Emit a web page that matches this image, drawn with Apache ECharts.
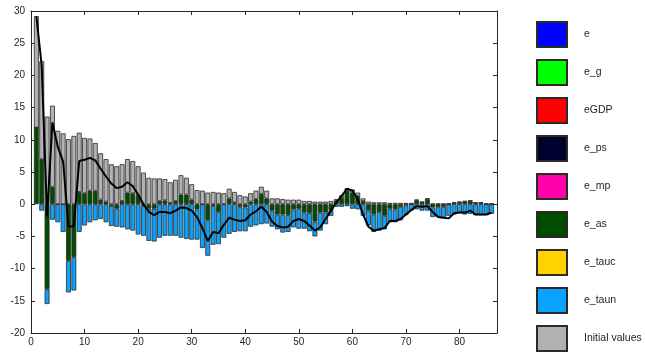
<!DOCTYPE html>
<html>
<head>
<meta charset="utf-8">
<script src="https://cdn.jsdelivr.net/npm/echarts@6/dist/echarts.min.js"></script>
<style>
  html, body { margin: 0; padding: 0; background: #fff; }
  #chart { width: 645px; height: 352px; }
</style>
</head>
<body>
<div id="chart"></div>
<script>
// x axis runs 0..87, bars sit on periods 1..86
const periods = Array.from({ length: 88 }, (_, i) => String(i))

// contributions per period
const initialValues = [
  17.3, 15.2, 13.6, 12.6, 11.4, 11.0, 10.1, 10.6, 9.2, 8.6,
  8.1, 7.4, 7.2, 6.6, 6.2, 5.9, 5.7, 5.2, 5.0, 4.5,
  4.9, 4.1, 4.0, 3.5, 3.3, 3.2, 3.3, 3.0, 2.6, 2.4,
  2.2, 2.1, 1.8, 1.9, 1.8, 1.7, 1.5, 1.6, 1.4, 1.2,
  1.3, 1.3, 1.1, 1.2, 0.9, 0.9, 0.8, 0.7, 0.7, 0.7,
  0.5, 0.5, 0.4, 0.4, 0.4, 0.5, 0.3, 0.4, 0.4, 0.5,
  0.5, 0.4, 0.4, 0.3, 0.3, 0.3, 0.2, 0.2, 0.2, 0.2,
  0.2, 0.1, 0.1, 0.1, 0.1, 0.1, 0.1, 0.1, 0.1, 0.1,
  0.1, 0.1, 0.1, 0.1, 0.1, 0.1
]
const eAs = [
  11.9, 7.0, -13.2, 2.7, 0, 0, -8.8, -8.2, 1.9, 1.7,
  2.1, 2.1, 0.7, 0.4, -0.3, -0.7, 0.5, 1.8, 1.7, 1.4,
  -0.3, -0.7, -0.7, 0.5, 0.6, 0.2, 0.5, 1.5, 1.5, 0.7,
  -0.8, 0, -2.5, -0.3, -1.2, 0, 0.9, 0.3, -0.4, -0.5,
  0.4, 0.8, 1.6, 0.9, -1.0, -1.6, -1.6, -1.7, -0.8, -0.7,
  -1.3, -1.4, -2.7, -1.3, -1.3, -1.0, 0.5, 1.0, 2.1, 1.8,
  1.3, 0.5, -1.0, -1.6, -1.2, -1.8, -0.7, -0.8, -0.4, -0.2,
  0, 0.6, 0.3, 0.8, -0.5, -0.4, -0.4, 0, 0.2, 0.3,
  0.4, 0.5, 0.2, 0.2, 0, 0
]
const eTaun = [
  0, -1.0, -2.3, -2.4, -2.8, -4.3, -4.9, -5.2, -4.3, -3.3,
  -2.8, -2.5, -2.3, -2.8, -3.1, -2.8, -3.6, -3.9, -4.1, -4.7,
  -4.6, -5.0, -5.1, -5.2, -4.9, -4.9, -4.9, -5.2, -5.4, -5.5,
  -4.7, -6.8, -5.5, -6.0, -5.0, -5.2, -4.6, -4.3, -3.8, -3.7,
  -3.5, -3.3, -3.1, -3.0, -2.5, -2.3, -2.8, -2.6, -2.8, -3.1,
  -2.5, -2.8, -2.3, -2.8, -1.8, -0.8, -0.4, -0.4, -0.3, -0.7,
  -0.8, -1.8, -2.3, -2.7, -2.9, -2.1, -2.1, -2.0, -2.1, -1.5,
  -1.0, -0.8, -1.0, -1.0, -1.5, -1.6, -1.7, -1.8, -1.6, -1.4,
  -1.6, -1.5, -1.7, -1.7, -1.7, -1.5
]
// black line (observed total)
const observed = [
  29.2, 21.5, -1.9, 12.7, 8.9, 6.6, -3.5, -3.4, 6.7, 6.9,
  7.2, 6.8, 5.5, 4.3, 3.2, 2.5, 2.7, 3.4, 2.8, 1.5,
  0.0, -1.2, -1.7, -1.2, -1.2, -1.4, -1.0, -0.5, -0.6, -1.0,
  -2.0, -3.7, -5.7, -4.3, -4.5, -3.2, -2.1, -2.4, -2.6, -2.5,
  -1.6, -1.1, -0.4, -1.2, -2.7, -3.4, -3.6, -3.5, -2.6, -2.3,
  -2.6, -3.3, -4.1, -3.6, -2.3, -1.0, 0.3, 1.3, 2.4, 2.1,
  0.8, -1.6, -3.5, -4.1, -3.9, -3.7, -2.6, -2.6, -2.3, -1.6,
  -0.9, -0.3, -0.4, -0.3, -1.2, -2.0, -2.1, -2.2, -1.4, -1.3,
  -1.3, -1.0, -1.6, -1.6, -1.6, -1.3
]
const shockNames = ['e', 'e_g', 'eGDP', 'e_ps', 'e_mp', 'e_as', 'e_tauc', 'e_taun', 'Initial values']
const shockColors = ['#0000ff', '#00ff00', '#ff0000', '#00002e', '#ff00aa', '#004d00', '#ffd200', '#08a2ff', '#b2b2b2']
const shockData = { e_as: eAs, e_taun: eTaun, 'Initial values': initialValues }

const font = '"Liberation Sans", Arial, sans-serif'
const axisColor = '#262626'

let myChart = echarts.init(document.getElementById('chart'))

// slot 0 and slot 87 stay empty
const onAxis = (arr) => ['-'].concat(arr, ['-'])
const everyTen = (index) => index % 10 === 0

let series = shockNames.map((name, k) => {
  const hasData = !!shockData[name]
  return {
    name: name,
    type: 'bar',
    // shocks with no contribution only live in the legend (on the spare axes)
    stack: hasData ? 'total' : 'empty',
    barWidth: 4.9,
    xAxisIndex: hasData ? 0 : 1,
    yAxisIndex: hasData ? 0 : 1,
    itemStyle: {
      color: shockColors[k],
      borderColor: '#2a2a2a',
      borderWidth: 0.8,
    },
    data: hasData ? onAxis(shockData[name]) : [],
  }
})
series.push({
  name: 'observed',
  type: 'line',
  xAxisIndex: 0,
  yAxisIndex: 0,
  symbol: 'none',
  z: 5,
  lineStyle: { color: '#000', width: 2 },
  data: onAxis(observed),
})

const xBase = {
  type: 'category',
  data: periods,
  boundaryGap: false,
  axisLine: { show: true, onZero: false, lineStyle: { color: axisColor, width: 1 } },
  axisTick: { show: true, inside: true, length: 4, interval: everyTen, lineStyle: { color: axisColor } },
  splitLine: { show: false },
}
const yBase = {
  type: 'value',
  min: -20,
  max: 30,
  interval: 5,
  axisLine: { show: true, onZero: false, lineStyle: { color: axisColor, width: 1 } },
  axisTick: { show: true, inside: true, length: 4, lineStyle: { color: axisColor } },
  splitLine: { show: false },
}

let option = {
  animation: false,
  backgroundColor: '#fff',
  textStyle: { fontFamily: font },
  grid: { left: 31, right: 148, top: 11, bottom: 19 },
  legend: {
    data: shockNames,
    orient: 'vertical',
    left: 536,
    top: 21,
    padding: 0,
    icon: 'rect',
    itemWidth: 30,
    itemHeight: 25,
    itemGap: 11,
    selectedMode: false,
    textStyle: { fontFamily: font, fontSize: 10.5, color: axisColor, padding: [0, 0, 0, 12] },
  },
  xAxis: [
    Object.assign({}, xBase, {
      position: 'bottom',
      axisLabel: { color: axisColor, fontSize: 10, fontFamily: font, margin: 4, interval: everyTen },
    }),
    Object.assign({}, xBase, { position: 'top', axisLabel: { show: false } }),
  ],
  yAxis: [
    Object.assign({}, yBase, {
      position: 'left',
      axisLabel: { color: axisColor, fontSize: 10, fontFamily: font, margin: 6 },
    }),
    Object.assign({}, yBase, { position: 'right', axisLabel: { show: false } }),
  ],
  series: series,
}
myChart.setOption(option, true)
</script>
</body>
</html>
